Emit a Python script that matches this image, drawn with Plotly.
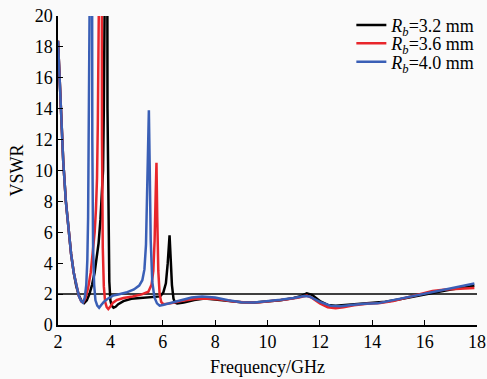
import plotly.graph_objects as go

# ---- data ----
freq_32 = [2.0,2.05,2.1,2.2,2.3,2.4,2.5,2.6,2.7,2.8,2.9,3.0,3.1,3.2,3.3,3.4,3.47,3.55,3.62,3.68,3.72,3.75,3.77,3.87,3.89,3.92,3.96,4.0,4.05,4.12,4.2,4.3,4.5,4.8,5.2,5.6,5.9,6.02,6.12,6.19,6.23,6.26,6.3,6.35,6.41,6.47,6.55,6.8,7.2,7.6,8.0,8.5,9.0,9.5,10.0,10.5,11.0,11.3,11.5,11.7,12.0,12.3,12.6,13.0,13.5,14.0,14.5,15.0,15.5,16.0,16.5,17.0,17.5,17.9]
vswr_32 = [18.4,16.5,14.0,10.6,8.0,6.1,4.6,3.4,2.5,1.9,1.55,1.42,1.6,2.0,2.6,3.4,4.2,5.3,6.8,8.3,10,14,40,40,14,6,2.8,1.6,1.25,1.12,1.18,1.35,1.55,1.7,1.75,1.78,1.85,2.1,2.7,4.0,5.3,5.8,4.4,2.6,1.7,1.45,1.4,1.45,1.62,1.72,1.65,1.55,1.47,1.45,1.52,1.6,1.75,1.88,2.05,1.95,1.55,1.3,1.25,1.3,1.38,1.42,1.5,1.65,1.82,2.0,2.15,2.3,2.42,2.55]

freq_36 = [2.0,2.05,2.1,2.2,2.3,2.4,2.5,2.6,2.7,2.8,2.9,2.97,3.05,3.15,3.25,3.33,3.4,3.45,3.49,3.52,3.54,3.66,3.68,3.71,3.75,3.8,3.86,3.92,4.0,4.1,4.25,4.5,4.85,5.2,5.45,5.57,5.64,5.69,5.73,5.76,5.79,5.83,5.88,5.94,6.02,6.3,6.7,7.2,7.7,8.2,8.7,9.2,9.7,10.2,10.7,11.2,11.5,11.7,12.0,12.3,12.6,12.9,13.3,13.8,14.3,14.8,15.3,15.8,16.3,16.8,17.3,17.9]
vswr_36 = [18.4,16.5,14.0,10.6,8.0,6.1,4.6,3.4,2.5,1.85,1.5,1.48,1.75,2.4,3.4,4.6,6.0,7.5,9.5,13,40,40,12,5,2.5,1.5,1.15,1.03,1.2,1.45,1.62,1.75,1.85,1.98,2.15,2.6,3.5,5.5,8.5,10.5,7,3.5,2,1.5,1.35,1.4,1.55,1.68,1.72,1.65,1.52,1.45,1.47,1.55,1.65,1.78,1.9,1.75,1.4,1.15,1.08,1.15,1.28,1.38,1.42,1.55,1.75,1.95,2.2,2.3,2.35,2.4]

freq_40 = [2.0,2.05,2.1,2.2,2.3,2.4,2.5,2.6,2.7,2.8,2.88,2.95,3.02,3.08,3.12,3.15,3.17,3.19,3.29,3.31,3.34,3.38,3.43,3.5,3.57,3.65,3.75,3.9,4.1,4.3,4.6,4.9,5.1,5.22,5.3,5.36,5.41,5.44,5.47,5.5,5.54,5.6,5.68,5.78,5.88,6.0,6.3,6.7,7.1,7.5,8.0,8.5,9.0,9.5,10.0,10.5,11.0,11.4,11.6,12.0,12.4,12.8,13.2,13.7,14.2,14.8,15.4,16.0,16.6,17.2,17.9]
vswr_40 = [18.4,16.5,14.0,10.6,8.0,6.1,4.6,3.4,2.5,1.85,1.55,1.45,1.75,2.6,4.2,7,12,40,40,12,5,2.6,1.6,1.25,1.12,1.3,1.5,1.7,1.9,1.98,2.1,2.3,2.55,2.9,3.6,5.2,8.5,11.5,13.9,10.5,5.5,2.8,1.8,1.4,1.25,1.3,1.42,1.6,1.78,1.85,1.78,1.6,1.48,1.45,1.53,1.63,1.75,1.88,1.85,1.5,1.25,1.22,1.3,1.38,1.4,1.6,1.82,2.02,2.2,2.4,2.68]

series_names = ["<i>R</i><sub><i>b</i></sub>=3.2 mm",
                "<i>R</i><sub><i>b</i></sub>=3.6 mm",
                "<i>R</i><sub><i>b</i></sub>=4.0 mm"]
series_colors = ["#000000", "#e8262b", "#3a5fb6"]

threshold = 2
x_range = [2, 18]
y_range = [0, 20]
x_ticks = [2, 4, 6, 8, 10, 12, 14, 16, 18]
y_ticks = [0, 2, 4, 6, 8, 10, 12, 14, 16, 18, 20]

FONT = "Liberation Serif, Times New Roman, serif"
BG = "#fafafa"

fig = go.Figure()
fig.add_trace(go.Scatter(x=x_range, y=[threshold, threshold], mode="lines",
                         line=dict(color="#000000", width=1.5),
                         showlegend=False, hoverinfo="skip"))
legend_ids = ["legend", "legend2", "legend3"]
for f, v, n, c, lg in zip([freq_32, freq_36, freq_40], [vswr_32, vswr_36, vswr_40],
                          series_names, series_colors, legend_ids):
    fig.add_trace(go.Scatter(x=f, y=v, mode="lines", name=n, legend=lg,
                             line=dict(color=c, width=2.5)))

legend_rows_y = [0.970, 0.911, 0.851]
legend_common = dict(x=1.008, xanchor="right", yanchor="middle",
                     bgcolor="rgba(0,0,0,0)", font=dict(size=18, family=FONT),
                     itemwidth=30, borderwidth=0)

axis_common = dict(ticks="inside", ticklen=5, tickwidth=1.2, tickcolor="#000",
                   showline=True, linecolor="#000", linewidth=1.5,
                   showgrid=False, zeroline=False, automargin=False,
                   ticklabeloverflow="allow")

fig.update_layout(
    width=487, height=379,
    margin=dict(l=58, r=10, t=16, b=54, autoexpand=False),
    paper_bgcolor=BG, plot_bgcolor=BG,
    font=dict(family=FONT, size=18, color="#000000"),
    showlegend=True,
    legend=dict(y=legend_rows_y[0], **legend_common),
    legend2=dict(y=legend_rows_y[1], **legend_common),
    legend3=dict(y=legend_rows_y[2], **legend_common),
    xaxis=dict(range=x_range, tickvals=x_ticks,
               title=dict(text="Frequency/GHz", standoff=9,
                          font=dict(size=18, family=FONT)),
               **axis_common),
    yaxis=dict(range=y_range, tickvals=y_ticks,
               title=dict(text="VSWR", standoff=6,
                          font=dict(size=18, family=FONT)),
               **axis_common),
)

# remove the page's default 8px body margin so the figure fills the window
fig.write_html("out.html",
               config={"displayModeBar": False},
               post_script="document.body.style.margin='0';"
                           "document.body.style.background='%s';" % BG)
